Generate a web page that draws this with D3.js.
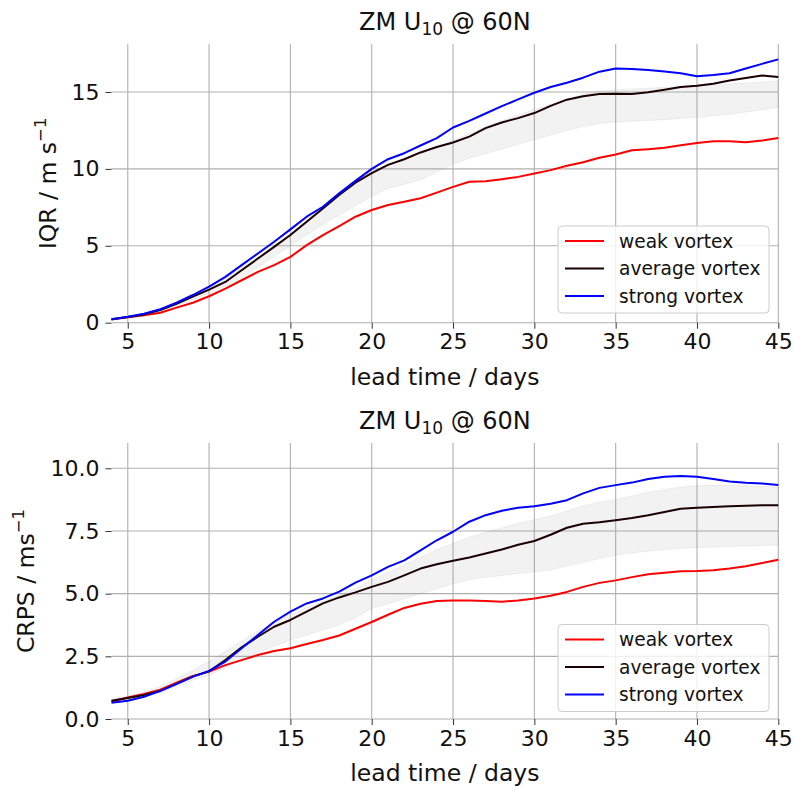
<!DOCTYPE html>
<html lang="en">
<head>
  <meta charset="UTF-8" />
  <title>ZM U10 @ 60N - IQR and CRPS</title>
  <script src="https://d3js.org/d3.v7.min.js"></script>
  <style>
    body { margin: 0; background: white; }
    svg { display: block; font-family: "DejaVu Sans", sans-serif; }
    .grid line { stroke: #b0b0b0; stroke-width: 1.1; }
  </style>
</head>
<body>
  <svg id="chart" width="795" height="788"></svg>

  <script>
    // lead time (days)
    const days = d3.range(4, 46);

    // top panel: IQR / m s-1
    const iqrWeak = [0.2, 0.35, 0.48, 0.65, 0.98, 1.3, 1.72, 2.22, 2.76, 3.3, 3.74, 4.28, 5.04, 5.7, 6.28, 6.89, 7.33, 7.65, 7.87, 8.09, 8.46, 8.83, 9.16, 9.2, 9.33, 9.48, 9.7, 9.92, 10.2, 10.43, 10.72, 10.93, 11.21, 11.28, 11.37, 11.54, 11.69, 11.8, 11.8, 11.73, 11.84, 12.01];
    const iqrAvg = [0.22, 0.37, 0.54, 0.82, 1.22, 1.69, 2.15, 2.65, 3.41, 4.17, 4.93, 5.7, 6.57, 7.43, 8.3, 9.1, 9.72, 10.26, 10.63, 11.07, 11.42, 11.72, 12.1, 12.65, 13.02, 13.3, 13.63, 14.1, 14.5, 14.72, 14.87, 14.89, 14.87, 14.98, 15.15, 15.33, 15.41, 15.54, 15.74, 15.91, 16.07, 15.98];
    const iqrStrong = [0.22, 0.38, 0.58, 0.88, 1.3, 1.8, 2.35, 2.98, 3.74, 4.5, 5.26, 6.07, 6.89, 7.54, 8.41, 9.22, 10.0, 10.63, 11.02, 11.52, 12.0, 12.69, 13.12, 13.6, 14.08, 14.52, 14.95, 15.32, 15.6, 15.93, 16.32, 16.53, 16.5, 16.43, 16.33, 16.22, 16.02, 16.1, 16.22, 16.53, 16.83, 17.12];
    const iqrBandLow = [0.2, 0.34, 0.5, 0.74, 1.08, 1.48, 1.92, 2.38, 2.95, 3.6, 4.3, 5.0, 5.7, 6.4, 7.0, 7.6, 8.2, 8.74, 9.0, 9.28, 9.8, 10.3, 10.7, 11.0, 11.3, 11.6, 11.9, 12.2, 12.5, 12.75, 12.95, 13.05, 13.1, 13.15, 13.2, 13.28, 13.35, 13.45, 13.55, 13.7, 13.85, 14.0];
    const iqrBandHigh = [0.24, 0.41, 0.6, 0.9, 1.32, 1.82, 2.35, 2.9, 3.55, 4.25, 5.0, 5.8, 6.65, 7.5, 8.3, 9.05, 9.7, 10.2, 10.6, 11.0, 11.4, 11.85, 12.3, 12.75, 13.15, 13.5, 13.85, 14.2, 14.55, 14.85, 15.05, 15.15, 15.2, 15.25, 15.3, 15.35, 15.4, 15.45, 15.5, 15.58, 15.65, 15.7];

    // bottom panel: CRPS / ms-1
    const crpsWeak = [0.7, 0.86, 1.0, 1.17, 1.45, 1.72, 1.89, 2.15, 2.35, 2.55, 2.71, 2.82, 2.99, 3.15, 3.33, 3.6, 3.87, 4.16, 4.43, 4.6, 4.71, 4.73, 4.73, 4.71, 4.68, 4.73, 4.81, 4.92, 5.07, 5.27, 5.43, 5.53, 5.66, 5.77, 5.83, 5.89, 5.9, 5.93, 6.0, 6.09, 6.22, 6.35];
    const crpsAvg = [0.73, 0.84, 0.96, 1.12, 1.4, 1.69, 1.9, 2.35, 2.86, 3.28, 3.68, 3.95, 4.28, 4.61, 4.85, 5.05, 5.27, 5.47, 5.73, 6.0, 6.17, 6.31, 6.44, 6.6, 6.76, 6.95, 7.1, 7.35, 7.63, 7.79, 7.85, 7.93, 8.02, 8.13, 8.26, 8.39, 8.43, 8.46, 8.49, 8.51, 8.53, 8.53];
    const crpsStrong = [0.65, 0.73, 0.89, 1.12, 1.4, 1.69, 1.92, 2.29, 2.82, 3.35, 3.88, 4.28, 4.61, 4.81, 5.08, 5.44, 5.73, 6.07, 6.33, 6.73, 7.13, 7.47, 7.87, 8.13, 8.31, 8.43, 8.49, 8.59, 8.73, 9.0, 9.22, 9.33, 9.43, 9.57, 9.66, 9.69, 9.66, 9.57, 9.47, 9.42, 9.39, 9.33];
    const crpsBandLow = [0.65, 0.75, 0.88, 1.05, 1.3, 1.55, 1.75, 2.05, 2.4, 2.65, 2.9, 3.15, 3.35, 3.55, 3.75, 4.05, 4.4, 4.6, 4.8, 5.0, 5.2, 5.4, 5.55, 5.65, 5.72, 5.8, 5.87, 5.95, 6.1, 6.25, 6.4, 6.53, 6.62, 6.7, 6.76, 6.8, 6.84, 6.86, 6.88, 6.9, 6.92, 6.93];
    const crpsBandHigh = [0.8, 0.92, 1.08, 1.3, 1.6, 1.95, 2.3, 2.7, 3.1, 3.5, 3.85, 4.15, 4.45, 4.7, 4.95, 5.2, 5.55, 5.85, 6.15, 6.45, 6.75, 7.0, 7.25, 7.45, 7.62, 7.8, 7.95, 8.1, 8.3, 8.5, 8.65, 8.75, 8.9, 9.05, 9.15, 9.25, 9.3, 9.32, 9.32, 9.3, 9.28, 9.25];

    const xTicks = [5, 10, 15, 20, 25, 30, 35, 40, 45];
    const iqrTicks = [0, 5, 10, 15];
    const crpsTicks = [0, 2.5, 5, 7.5, 10];
    const seriesNames = ["weak vortex", "average vortex", "strong vortex"];
    const seriesColors = ["#ff0000", "#1a0000", "#0000ff"];

    const svg = d3.select("#chart");

    function drawPanel(opt) {
      const left = 111.5, right = 778.3;
      const x = d3.scaleLinear().domain([4, 45]).range([left, right]);
      const y = d3.scaleLinear().domain(opt.yDomain).range([opt.bottom, opt.top]);

      const g = svg.append("g");

      // grid
      const grid = g.append("g").attr("class", "grid");
      grid.selectAll(".vx").data(xTicks).enter().append("line")
        .attr("x1", d => x(d)).attr("x2", d => x(d))
        .attr("y1", opt.top).attr("y2", opt.bottom);
      grid.selectAll(".hy").data(opt.yTicks).enter().append("line")
        .attr("x1", left).attr("x2", right)
        .attr("y1", d => y(d)).attr("y2", d => y(d));

      // spread band
      const area = d3.area()
        .x((d, i) => x(days[i]))
        .y0((d, i) => y(opt.bandLow[i]))
        .y1((d, i) => y(opt.bandHigh[i]));
      g.append("path").datum(days)
        .attr("d", area)
        .attr("fill", "#808080").attr("fill-opacity", 0.1)
        .attr("stroke", "#808080").attr("stroke-opacity", 0.1).attr("stroke-width", 1);

      // lines
      const line = d3.line().x((d, i) => x(days[i])).y(d => y(d));
      opt.series.forEach((s, k) => {
        g.append("path").datum(s)
          .attr("d", line)
          .attr("fill", "none")
          .attr("stroke", seriesColors[k])
          .attr("stroke-width", 2)
          .attr("stroke-linejoin", "round");
      });

      // x axis
      const xa = g.append("g").attr("transform", `translate(0,${opt.bottom})`)
        .call(d3.axisBottom(x).tickValues(xTicks).tickSize(6).tickPadding(5).tickFormat(d3.format("d")));
      xa.select(".domain").remove();
      xa.selectAll("line").attr("stroke", "#333").attr("stroke-width", 1);
      xa.selectAll("text").attr("font-size", 22).attr("fill", "#111")
        .attr("font-family", "DejaVu Sans");

      // y axis
      const ya = g.append("g").attr("transform", `translate(${left},0)`)
        .call(d3.axisLeft(y).tickValues(opt.yTicks).tickSize(6).tickPadding(6).tickFormat(opt.yFormat));
      ya.select(".domain").remove();
      ya.selectAll("line").attr("stroke", "#333").attr("stroke-width", 1);
      ya.selectAll("text").attr("font-size", 22).attr("fill", "#111")
        .attr("font-family", "DejaVu Sans");

      // title
      const t = g.append("text")
        .attr("x", (left + right) / 2).attr("y", opt.top - 14)
        .attr("text-anchor", "middle").attr("font-size", 24).attr("fill", "#111");
      t.append("tspan").text("ZM U");
      t.append("tspan").attr("font-size", 17).attr("dy", 5).text("10");
      t.append("tspan").attr("dy", -5).text(" @ 60N");

      // x label
      g.append("text")
        .attr("x", (left + right) / 2).attr("y", opt.bottom + 62)
        .attr("text-anchor", "middle").attr("font-size", 23.5).attr("fill", "#111")
        .text("lead time / days");

      // y label
      const yl = g.append("text")
        .attr("transform", `translate(${opt.yLabelX},${(opt.top + opt.bottom) / 2}) rotate(-90)`)
        .attr("text-anchor", "middle").attr("font-size", 23.5).attr("fill", "#111");
      yl.append("tspan").text(opt.yLabel);
      yl.append("tspan").attr("font-size", 16.5).attr("dy", -10).text("\u22121");

      // legend
      const lg = g.append("g").attr("transform", `translate(558,${opt.legendTop})`);
      lg.append("rect")
        .attr("width", 211).attr("height", 87).attr("rx", 4)
        .attr("fill", "white").attr("fill-opacity", 0.8)
        .attr("stroke", "#cccccc").attr("stroke-width", 1);
      seriesNames.forEach((name, k) => {
        const cy = 15 + k * 27.5;
        lg.append("line")
          .attr("x1", 7).attr("x2", 46).attr("y1", cy).attr("y2", cy)
          .attr("stroke", seriesColors[k]).attr("stroke-width", 2);
        lg.append("text")
          .attr("x", 61).attr("y", cy + 6.5)
          .attr("font-size", 18.6).attr("fill", "#111")
          .text(name);
      });
    }

    drawPanel({
      top: 44, bottom: 322.7, yDomain: [0, 18.12], yTicks: iqrTicks,
      yFormat: d3.format("d"),
      bandLow: iqrBandLow, bandHigh: iqrBandHigh,
      series: [iqrWeak, iqrAvg, iqrStrong],
      yLabel: "IQR / m s", yLabelX: 56, legendTop: 226
    });

    drawPanel({
      top: 443, bottom: 719, yDomain: [0, 11.01], yTicks: crpsTicks,
      yFormat: d3.format(".1f"),
      bandLow: crpsBandLow, bandHigh: crpsBandHigh,
      series: [crpsWeak, crpsAvg, crpsStrong],
      yLabel: "CRPS / ms", yLabelX: 34, legendTop: 624.5
    });
  </script>
</body>
</html>
